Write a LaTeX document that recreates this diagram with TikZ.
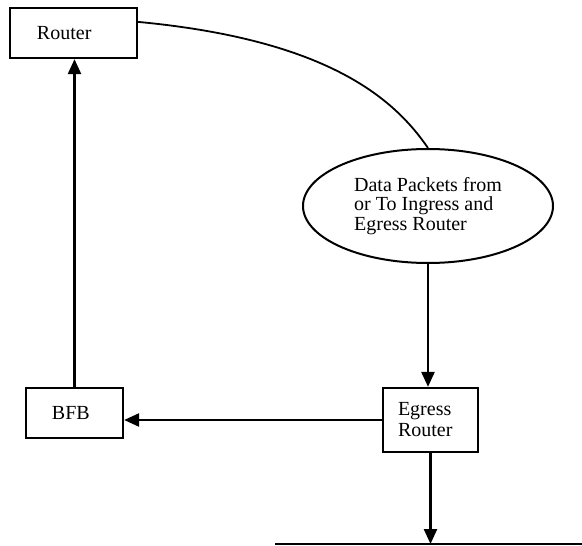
\documentclass[tikz,border=0pt]{standalone}
\usepackage{fontspec}
\setmainfont{Liberation Serif}
\usetikzlibrary{shapes.geometric,arrows.meta}
\begin{document}
\begin{tikzpicture}[x=1pt,y=-1pt,
  box/.style={draw,line width=2.2pt,align=left,minimum height=50pt,inner ysep=0pt,
    font=\fontsize{20pt}{21pt}\selectfont},
  cloud/.style={draw,ellipse,line width=2pt,minimum width=250pt,minimum height=114pt,
    inner sep=0pt,align=left,font=\fontsize{20pt}{19.5pt}\selectfont},
  arr/.style={line width=2.4pt,-{Triangle[length=15pt,width=13pt]}},
  wire/.style={line width=1.8pt}]
\useasboundingbox (0,0) rectangle (582,546);
% boxes
\node[box,text width=73pt,inner xsep=27pt] (router) at (73.5,33) {Router};
\node[box,text width=45pt,inner xsep=26pt] (bfb) at (74.5,413) {BFB};
\node[box,text width=65pt,inner xsep=15pt,minimum height=64pt] (egress) at (430.5,420) {Egress\\Router};
\node[cloud] (ell) at (428,206) {Data Packets from\\or To Ingress and\\Egress Router};
% base line
\coordinate (bl) at (275,544);
\coordinate (br) at (582,544);
\draw[wire] (bl) -- (br);
% connectors
\coordinate (c0) at ([yshift=-15pt]router.north east);
\draw[wire] (c0) .. controls (330,40) and (395,100) .. (ell.north);
\draw[arr] (ell.south) -- (ell.south |- egress.north);
\draw[arr] (egress.south) -- (egress.south |- bl);
\draw[arr] (egress.west) -- (egress.west -| bfb.east);
\draw[arr] (bfb.north) -- (bfb.north |- router.south);
\end{tikzpicture}
\end{document}
